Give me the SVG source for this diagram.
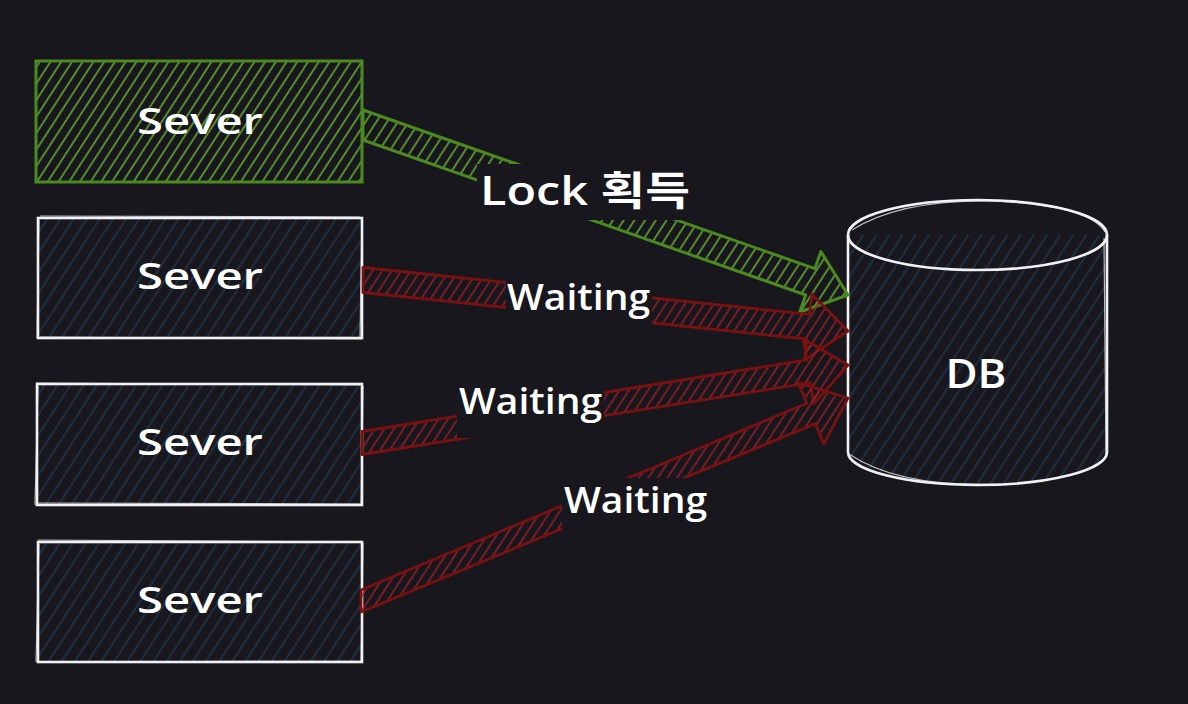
<svg xmlns="http://www.w3.org/2000/svg" width="1188" height="704" viewBox="0 0 1188 704">
<defs>
<pattern id="hBlue" patternUnits="userSpaceOnUse" width="11" height="11" patternTransform="rotate(33)">
<line x1="5" y1="0" x2="5" y2="11" stroke="#22384d" stroke-width="1.4"/>
</pattern>
<pattern id="hGreen" patternUnits="userSpaceOnUse" width="9" height="9" patternTransform="rotate(33)">
<line x1="4" y1="0" x2="4" y2="9" stroke="#5fa02e" stroke-width="1.7"/>
</pattern>
<pattern id="hRed" patternUnits="userSpaceOnUse" width="8" height="8" patternTransform="rotate(33)">
<line x1="4" y1="0" x2="4" y2="8" stroke="#951f26" stroke-width="1.5"/>
</pattern>
<style>
.box{fill:url(#hBlue);stroke:#f2f2f2;stroke-width:2.6;}
.sk{fill:none;stroke:#f2f2f2;stroke-width:1.2;opacity:0.75;}
.gbox{fill:url(#hGreen);stroke:#4a8a1f;stroke-width:3;}
.garr{fill:url(#hGreen);stroke:#4a8a1f;stroke-width:3;stroke-linejoin:round;}
.rarr{fill:url(#hRed);stroke:#7a1111;stroke-width:2.8;stroke-linejoin:round;}
.mask{fill:#18171e;}
.t{font-family:"Open Sans","Noto Sans","Noto Sans CJK KR",sans-serif;font-weight:600;fill:#ffffff;text-anchor:middle;}
</style>
</defs>
<rect x="0" y="0" width="1188" height="704" fill="#18171e"/>

<g id="server1">
<rect class="gbox" x="36" y="61" width="326" height="121"/>
<text class="t" x="200" y="134" font-size="36" textLength="126" lengthAdjust="spacingAndGlyphs">Sever</text>
</g>
<g id="server2">
<rect class="box" x="38" y="218" width="324" height="120"/>
<path class="sk" d="M40,216 L360,217 M362,219 L360,338 M362,339 L40,337 M37,338 L39,220"/>
<text class="t" x="200" y="289" font-size="36" textLength="126" lengthAdjust="spacingAndGlyphs">Sever</text>
</g>
<g id="server3">
<rect class="box" x="37" y="384" width="325" height="121"/>
<path class="sk" d="M36,383 L360,385 M363,386 L361,506 M360,504 L37,503 M35,505 L38,386"/>
<text class="t" x="200" y="455" font-size="36" textLength="126" lengthAdjust="spacingAndGlyphs">Sever</text>
</g>
<g id="server4">
<rect class="box" x="38" y="542" width="324" height="120"/>
<path class="sk" d="M38,540 L361,542 M363,543 L361,663 M361,661 L39,662 M36,662 L39,544"/>
<text class="t" x="200" y="613" font-size="36" textLength="126" lengthAdjust="spacingAndGlyphs">Sever</text>
</g>
<g id="db">
<path class="box" d="M848,235 L848,452 A129.5,33 0 0 0 1107,452 L1107,235"/>
<ellipse cx="977.5" cy="235" rx="129.5" ry="35" fill="none" stroke="#f2f2f2" stroke-width="2.6"/>
<path class="sk" d="M852,230 Q900,200 990,201 Q1090,205 1105,232 M849,454 Q900,488 1000,484 M1104,238 L1106,455"/>
<text class="t" x="976" y="388" font-size="40" textLength="61" lengthAdjust="spacingAndGlyphs">DB</text>
</g>

<g id="connectors">
<polygon class="garr" points="363,110 814.9,268.6 820.9,251.6 848,295 799.7,312 805.7,295 363,140"/>
<polygon class="rarr" points="363,267.5 809.5,314.4 811.7,294 848,331 804.7,359.6 806.9,339.2 363,292.5"/>
<polygon class="rarr" points="362,431.5 806.7,359.9 803.3,338.7 848,365 813.7,403.9 810.3,382.7 362,454.5"/>
<polygon class="rarr" points="361,590 806.9,403.2 798.4,382.9 848,398 823.8,443.9 815.3,423.6 361,612"/>
<rect class="mask" x="477" y="164" width="217" height="56"/>
<rect class="mask" x="506" y="274" width="146" height="56"/>
<rect class="mask" x="457" y="378" width="147" height="60"/>
<rect class="mask" x="562" y="478" width="147" height="58"/>
<text class="t" x="585" y="205" font-size="40" textLength="210" lengthAdjust="spacingAndGlyphs">Lock 획득</text>
<text class="t" x="578.5" y="310" font-size="36" textLength="143" lengthAdjust="spacingAndGlyphs">Waiting</text>
<text class="t" x="530.5" y="414" font-size="36" textLength="143" lengthAdjust="spacingAndGlyphs">Waiting</text>
<text class="t" x="635.5" y="513" font-size="36" textLength="143" lengthAdjust="spacingAndGlyphs">Waiting</text>
</g>
</svg>
